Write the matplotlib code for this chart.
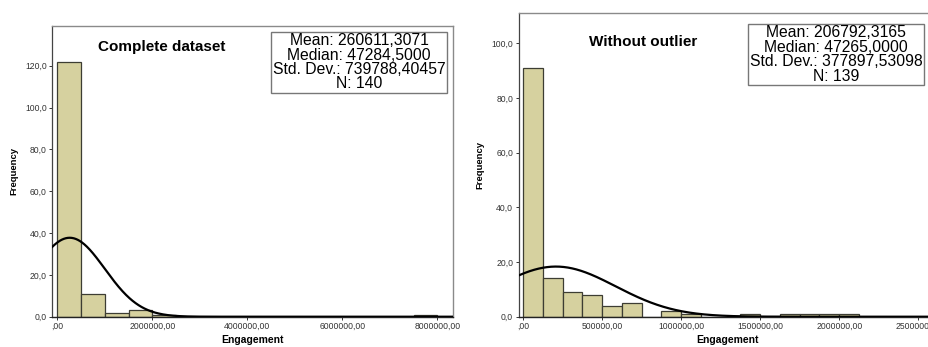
import numpy as np
import matplotlib
matplotlib.use("Agg")
import matplotlib.pyplot as plt
from matplotlib.ticker import FuncFormatter

plt.rcParams['font.family'] = ['Liberation Sans', 'DejaVu Sans']

# ---- data: complete dataset ----
left_bin_width = 500000
left_bin_starts = [0, 500000, 1000000, 1500000, 2000000, 7500000]
left_counts = [122, 11, 2, 3, 1, 1]
left_mean = 260611.3071
left_median = 47284.5000
left_sd = 739788.40457
left_n = 140
left_title = "Complete dataset"
left_xticks = [0, 2000000, 4000000, 6000000, 8000000]
left_yticks = [0, 20, 40, 60, 80, 100, 120]

# ---- data: without outlier ----
right_bin_width = 125000
right_bin_starts = [0, 125000, 250000, 375000, 500000, 625000, 750000, 875000,
                    1000000, 1125000, 1250000, 1375000, 1500000, 1625000,
                    1750000, 1875000, 2000000]
right_counts = [91, 14, 9, 8, 4, 5, 0, 2, 1, 0, 0, 1, 0, 1, 1, 1, 1]
right_mean = 206792.3165
right_median = 47265.0000
right_sd = 377897.53098
right_n = 139
right_title = "Without outlier"
right_xticks = [0, 500000, 1000000, 1500000, 2000000, 2500000]
right_yticks = [0, 20, 40, 60, 80, 100]

BAR = '#d6d19f'
EDGE = '#3d3d33'

fig = plt.figure(figsize=(9.29, 3.47), dpi=100)


def xfmt(v, p):
    if v == 0:
        return ",00"
    return f"{int(round(v))},00"


def yfmt(v, p):
    return f"{v:.1f}".replace('.', ',')


def dec(v, k):
    return f"{v:.{k}f}".replace('.', ',')


def panel(ax, starts, counts, bw, mean, median, sd, n, title, xticks, yticks,
          xlim, ylim, title_xy, box_xy):
    ax.bar(starts, counts, width=bw, align='edge', color=BAR, edgecolor=EDGE,
           linewidth=0.9, zorder=2)
    xs = np.linspace(xlim[0], xlim[1], 800)
    ys = n * bw / (sd * np.sqrt(2 * np.pi)) * np.exp(-0.5 * ((xs - mean) / sd) ** 2)
    ax.plot(xs, ys, color='black', lw=1.6, zorder=3, clip_on=True)
    ax.set_xlim(*xlim)
    ax.set_ylim(*ylim)
    ax.set_xticks(xticks)
    ax.set_yticks(yticks)
    ax.xaxis.set_major_formatter(FuncFormatter(xfmt))
    ax.yaxis.set_major_formatter(FuncFormatter(yfmt))
    ax.tick_params(axis='both', labelsize=6.2, colors='#333333', length=2.5,
                   width=0.7, pad=1.5)
    for s in ['top', 'right']:
        ax.spines[s].set_color('#8a8a8a')
        ax.spines[s].set_linewidth(1.0)
    ax.spines['left'].set_color('#444444')
    ax.spines['left'].set_linewidth(0.9)
    ax.spines['bottom'].set_color('#222222')
    ax.spines['bottom'].set_linewidth(1.0)
    ax.set_xlabel("Engagement", fontsize=7.5, fontweight='bold', labelpad=2.5)
    ax.set_ylabel("Frequency", fontsize=6.8, fontweight='bold', labelpad=5)
    ax.text(title_xy[0], title_xy[1], title, transform=ax.transAxes,
            fontsize=11, fontweight='bold', ha='center', va='center')
    txt = ("Mean: " + dec(mean, 4) + "\n"
           + "Median: " + dec(median, 4) + "\n"
           + "Std. Dev.: " + dec(sd, 5) + "\n"
           + f"N: {n}")
    ax.text(box_xy[0], box_xy[1], txt, transform=ax.transAxes, fontsize=11.3,
            ha='center', va='top', linespacing=0.95,
            bbox=dict(boxstyle='square,pad=0.1', facecolor='white',
                      edgecolor='#777777', linewidth=1.0))


ax1 = fig.add_axes([0.0563, 0.0873, 0.4313, 0.8378])
panel(ax1, left_bin_starts, left_counts, left_bin_width, left_mean, left_median,
      left_sd, left_n, left_title, left_xticks, left_yticks,
      (-105000, 8330000), (0, 139), (0.274, 0.928), (0.766, 0.975))

ax2 = fig.add_axes([0.5583, 0.0873, 0.4505, 0.8744])
panel(ax2, right_bin_starts, right_counts, right_bin_width, right_mean,
      right_median, right_sd, right_n, right_title, right_xticks, right_yticks,
      (-29000, 2620000), (0, 111), (0.297, 0.906), (0.758, 0.96))

fig.savefig("out.png", dpi=100)
